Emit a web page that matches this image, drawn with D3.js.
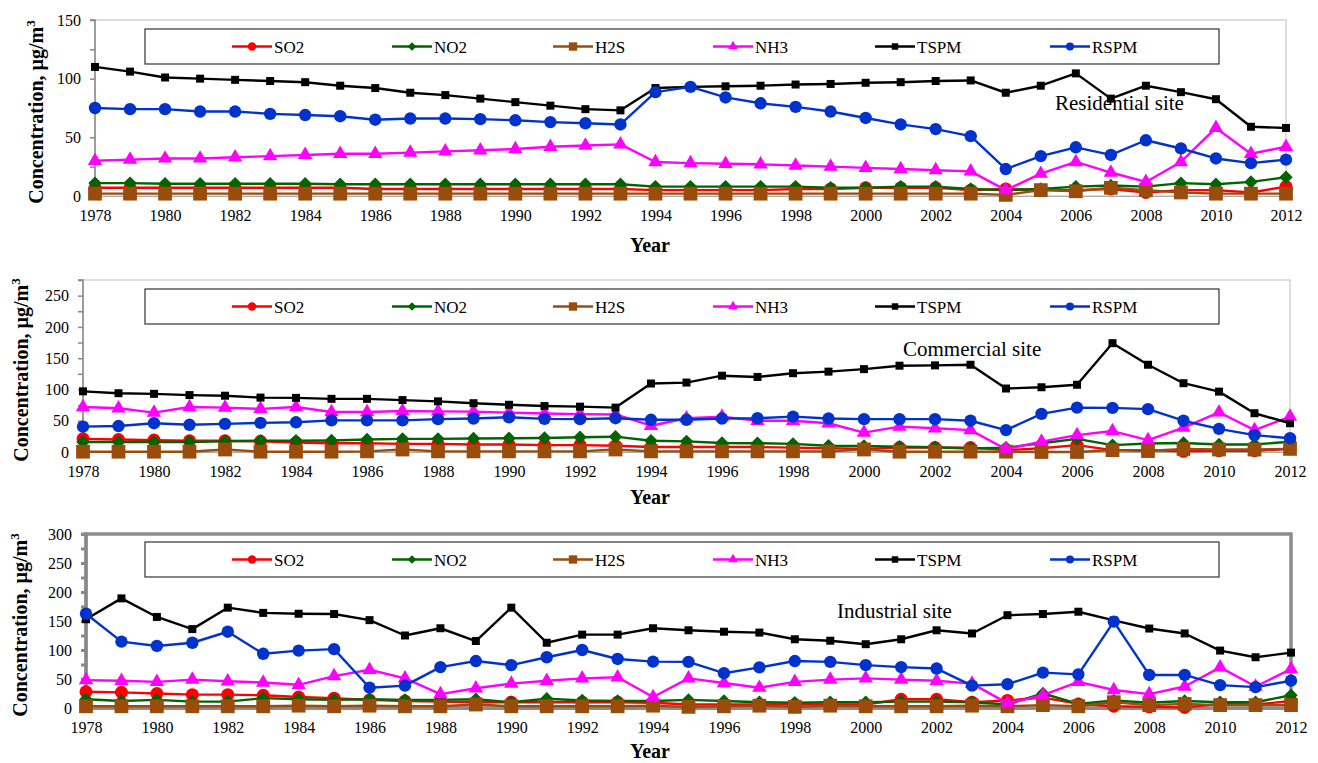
<!DOCTYPE html>
<html>
<head>
<meta charset="utf-8">
<title>Air quality trends</title>
<style>
  body { margin: 0; background: #fff; }
  svg text { fill: #000; }
  .title { font-size: 20px; font-weight: bold; }
  .site { font-size: 21px; }
</style>
</head>
<body>
<script src="https://cdn.jsdelivr.net/npm/d3@7/dist/d3.min.js"></script>
<script>
// ---- data ----
var years = [1978, 1979, 1980, 1981, 1982, 1983, 1984, 1985, 1986, 1987, 1988, 1989,
             1990, 1991, 1992, 1993, 1994, 1995, 1996, 1997, 1998, 1999, 2000, 2001,
             2002, 2003, 2004, 2005, 2006, 2007, 2008, 2009, 2010, 2011, 2012];
var xTickYears = [1978, 1980, 1982, 1984, 1986, 1988, 1990, 1992, 1994, 1996, 1998,
                  2000, 2002, 2004, 2006, 2008, 2010, 2012];
var seriesNames = ["SO2", "NO2", "H2S", "NH3", "TSPM", "RSPM"];

// residential site
var resSO2  = [7, 7, 7, 7, 7, 7, 7, 7, 6, 6, 6, 6, 6, 6, 6, 6, 5, 5, 5, 5, 6, 6, 7, 7, 7, 5, 6, 5, 5, 6, 3, 5, 5, 3, 8];
var resNO2  = [11, 11, 10.5, 10.5, 10.5, 10.5, 10.5, 10, 10, 10, 10, 10, 10, 10, 10, 10, 8, 8, 8, 8, 8, 7, 7, 8, 8, 6, 5, 6, 8, 9, 8, 11, 10, 12, 16];
var resH2S  = [2, 2, 2, 2, 2, 2, 2, 2, 2, 2, 2, 2, 2, 2, 2, 2, 2, 2, 2, 2, 2, 2, 2, 2, 2, 2, 1, 5, 4, 7, 5, 3, 2, 2, 2];
var resNH3  = [30, 31, 32, 32, 33, 34, 35, 36, 36, 37, 38, 39, 40, 42, 43, 44, 29, 28, 27.5, 27, 26, 25, 24, 23, 22, 21, 5, 19, 29, 20, 12, 29, 58, 36, 42];
var resTSPM = [110, 106, 101, 100, 99, 98, 97, 94, 92, 88, 86, 83, 80, 77, 74, 73, 92, 93, 93.5, 94, 95, 95.5, 96.5, 97, 98, 98.5, 88, 94, 104.5, 83, 94, 88.5, 82.5, 59, 58];
var resRSPM = [75, 74, 74, 72, 72, 70, 69, 68, 65, 66, 66, 65.5, 64.5, 63, 62, 61, 88.5, 93, 84, 79, 76, 72, 66.5, 61, 57, 51, 23, 34, 41.5, 35, 47.5, 40.5, 32, 28, 31];
var resYTicks = [0, 25, 50, 75, 100, 125, 150];

// commercial site
var comSO2  = [21, 20, 19, 18, 18, 17, 15, 14, 14, 13, 13, 12, 12, 11, 11, 10, 8, 8, 8, 8, 7, 6, 5, 7, 7, 7, 3, 6, 11, 3, 3, 1, 2, 2, 5];
var comNO2  = [16, 16, 16, 16, 17, 18, 18, 18.5, 20, 21, 21, 21.5, 22, 22.5, 23.5, 24.5, 18, 17, 14.5, 14, 13, 10, 9.5, 8.5, 7.5, 5.5, 7, 14, 21, 11, 13.5, 14.5, 12, 12, 16.5];
var comH2S  = [0.5, 0.5, 0.5, 0.5, 4, 0.5, 0.5, 0.5, 1, 4, 1, 1, 1, 1, 1, 4, 1, 1, 1, 1, 1, 1, 4, 0.5, 0.5, 0.5, 0.5, 0, 0, 3, 1.5, 5, 4, 4, 5];
var comNH3  = [72, 70, 63, 72, 71, 69, 72, 64, 64, 65.5, 65, 64.5, 63, 61.5, 60.5, 60, 42, 54, 56.5, 50, 50, 46, 31, 40.5, 38, 35, 4.5, 16.5, 27, 33.5, 19, 39, 63.5, 35, 56.5];
var comTSPM = [97, 94, 93, 91, 90, 87, 86.5, 85, 85, 83, 81, 78, 75.5, 73.5, 72.5, 71, 109.5, 111, 122, 120, 126, 128.5, 132.5, 138, 138.5, 139.5, 101.5, 103.5, 107.5, 174, 139.5, 110, 96.5, 62, 46];
var comRSPM = [40.5, 41.5, 46, 43.5, 45, 46.5, 47.5, 50.5, 50.5, 50.5, 52.5, 53.5, 55.5, 53, 52.5, 54, 51.5, 51.5, 53.5, 54, 56.5, 53.5, 52.5, 52.5, 52.5, 50, 35, 61, 71, 70.5, 68.5, 50, 37, 27, 22];
var comYTicks = [0, 25, 50, 75, 100, 125, 150, 175, 200, 225, 250, 275];

// industrial site
var indSO2  = [28, 27, 25, 23, 23, 22, 19, 17, 14, 12, 11, 10, 10, 10, 10, 10, 9, 6, 6, 6, 6, 6, 6, 15, 15, 10, 13, 18, 7, 3, 2, 1, 7, 6, 12];
var indNO2  = [15, 12, 14, 11, 11, 17, 15, 14, 15, 14, 14, 15, 10, 16, 13, 12, 12, 14, 12, 10, 9, 10, 10, 11, 11, 10, 6, 25, 7, 13, 9, 12, 10, 10, 22];
var indH2S  = [3, 3, 3, 3, 3, 3, 4, 3, 4, 3, 3, 6, 3, 3, 3, 3, 4, 2, 3, 4, 2, 4, 3, 3, 3, 4, 3, 5, 3, 10, 5, 7, 5, 5, 5];
var indNH3  = [48, 47, 45, 49, 46, 44, 40, 55, 66, 51, 24, 34, 42, 47, 51, 53, 19, 51, 43, 35, 45, 49, 51, 49, 47, 42, 8, 22, 45, 31, 24, 37, 70, 37, 67];
var indTSPM = [153, 189, 157, 136, 173, 164, 162.5, 162, 151.5, 125, 137.5, 115.5, 173, 112.5, 126.5, 126.5, 137.5, 134, 131.5, 130, 118.5, 116, 110, 118.5, 134, 128.5, 160, 162, 166, 151, 137, 128.5, 99, 87.5, 95.5];
var indRSPM = [162.5, 114.5, 107, 112.5, 131.5, 93.5, 99, 101.5, 35, 38.5, 70.5, 81, 74, 87.5, 100, 84.5, 80, 79.5, 60, 70, 81, 79.5, 74, 70.5, 68, 38.5, 41, 61, 58, 149, 57, 57, 39.5, 36, 47];
var indYTicks = [0, 25, 50, 75, 100, 125, 150, 175, 200, 225, 250, 275, 300];

// ---- styles ----
var FONT = "Liberation Serif, Times New Roman, serif";
var colors = {SO2: "#ff0000", NO2: "#006400", H2S: "#994c0c", NH3: "#ff00ff", TSPM: "#000000", RSPM: "#0033cc"};
var legendX = {SO2: 232, NO2: 392, H2S: 553, NH3: 713, TSPM: 875, RSPM: 1050};

function marker(g, name, big) {
  var s = big ? 1 : 0.65;
  var c = colors[name];
  if (name == "SO2" || name == "RSPM") {
    g.append("circle").attr("r", (name == "SO2" ? 6.5 : 6.2) * s).attr("fill", c);
  } else if (name == "NO2") {
    g.append("path").attr("d", d3.symbol().type(d3.symbolSquare).size(90 * s * s)())
      .attr("transform", "rotate(45)").attr("fill", c);
  } else if (name == "H2S") {
    g.append("path").attr("d", d3.symbol().type(d3.symbolSquare).size(big ? 190 : 70)()).attr("fill", c);
  } else if (name == "NH3") {
    g.append("path").attr("d", d3.symbol().type(d3.symbolTriangle).size(big ? 90 : 42)()).attr("fill", c);
  } else {
    g.append("path").attr("d", d3.symbol().type(d3.symbolSquare).size(big ? 64 : 42)()).attr("fill", c);
  }
}

var svg = d3.select("body").append("svg").attr("width", 1318).attr("height", 763)
  .attr("font-family", FONT);

function drawPanel(p) {
  var x = d3.scaleLinear().domain([1978, 2012]).range([p.left, p.right]);
  var y = d3.scaleLinear().domain([0, p.yMax]).range([p.bottom, p.top]);
  var g = svg.append("g");

  // plot frame
  g.append("rect").attr("x", p.left).attr("y", p.top)
    .attr("width", p.right - p.left).attr("height", p.bottom - p.top)
    .attr("fill", "none")
    .attr("stroke", p.heavy ? "#8c8c8c" : "#c8c8c8")
    .attr("stroke-width", p.heavy ? 3.5 : 1.2);

  // axes
  var ya = g.append("g").attr("transform", "translate(" + p.left + ",0)")
    .call(d3.axisLeft(y).tickValues(p.yTicks).tickSize(5).tickPadding(9)
      .tickFormat(function (d) { return d % 50 == 0 ? d : ""; }));
  ya.attr("font-family", FONT).attr("font-size", 16);
  ya.selectAll("line,path").attr("stroke", "#888").attr("stroke-width", p.heavy ? 3 : 1.5);
  ya.select(".domain").attr("d", "M-5," + y(p.yMax) + "H0V" + p.bottom);

  var xa = g.append("g").attr("transform", "translate(0," + p.bottom + ")")
    .call(d3.axisBottom(x).tickValues(xTickYears).tickSize(0).tickPadding(14).tickFormat(d3.format("d")));
  xa.attr("font-family", FONT).attr("font-size", 16);
  xa.select(".domain").attr("stroke", p.heavy ? "#8c8c8c" : "#aaa").attr("stroke-width", p.heavy ? 3 : 1.2);

  // series, drawn in legend order
  seriesNames.forEach(function (name, i) {
    var vals = p.data[i];
    var line = d3.line().x(function (d, j) { return x(years[j]); }).y(function (d) { return y(d); });
    g.append("path").datum(vals).attr("d", line)
      .attr("fill", "none").attr("stroke", colors[name]).attr("stroke-width", 2.4)
      .attr("stroke-linejoin", "round");
    vals.forEach(function (v, j) {
      var m = g.append("g").attr("transform", "translate(" + x(years[j]) + "," + y(v) + ")");
      marker(m, name, true);
    });
  });

  // legend
  var lg = g.append("g").attr("class", "legend");
  lg.append("rect").attr("x", 145).attr("y", p.legTop).attr("width", 1074).attr("height", 35)
    .attr("fill", "#fff").attr("stroke", "#333").attr("stroke-width", 1.2);
  var cy = p.legTop + 17.5;
  seriesNames.forEach(function (name) {
    var x0 = legendX[name];
    lg.append("line").attr("x1", x0).attr("x2", x0 + 40).attr("y1", cy).attr("y2", cy)
      .attr("stroke", colors[name]).attr("stroke-width", 2.4);
    marker(lg.append("g").attr("transform", "translate(" + (x0 + 20) + "," + cy + ")"), name, false);
    lg.append("text").attr("x", x0 + 42).attr("y", cy + 6).attr("font-size", 17).text(name);
  });

  // texts
  g.append("text").attr("class", "site").attr("x", p.siteX).attr("y", p.siteY).text(p.site);
  g.append("text").attr("class", "title").attr("text-anchor", "middle")
    .attr("x", 650).attr("y", p.yearY).text("Year");
  var t = g.append("text").attr("class", "title").attr("text-anchor", "middle")
    .attr("transform", "translate(" + p.titleX + "," + ((p.top + p.bottom) / 2 + 4) + ") rotate(-90)");
  t.append("tspan").text("Concentration, \u00b5g/m");
  t.append("tspan").attr("dy", -8).style("font-size", "13px").text("3");
}

drawPanel({left: 95, right: 1286, top: 20, bottom: 196, yMax: 150, yTicks: resYTicks,
  data: [resSO2, resNO2, resH2S, resNH3, resTSPM, resRSPM], legTop: 29,
  site: "Residential site", siteX: 1055, siteY: 110, yearY: 252, titleX: 43});
drawPanel({left: 83, right: 1290, top: 280, bottom: 452, yMax: 275, yTicks: comYTicks,
  data: [comSO2, comNO2, comH2S, comNH3, comTSPM, comRSPM], legTop: 289,
  site: "Commercial site", siteX: 903, siteY: 356, yearY: 504, titleX: 28});
drawPanel({left: 86, right: 1291, top: 534, bottom: 708, yMax: 300, yTicks: indYTicks,
  data: [indSO2, indNO2, indH2S, indNH3, indTSPM, indRSPM], legTop: 542,
  site: "Industrial site", siteX: 837, siteY: 618, yearY: 758, titleX: 27, heavy: true});
</script>
</body>
</html>
